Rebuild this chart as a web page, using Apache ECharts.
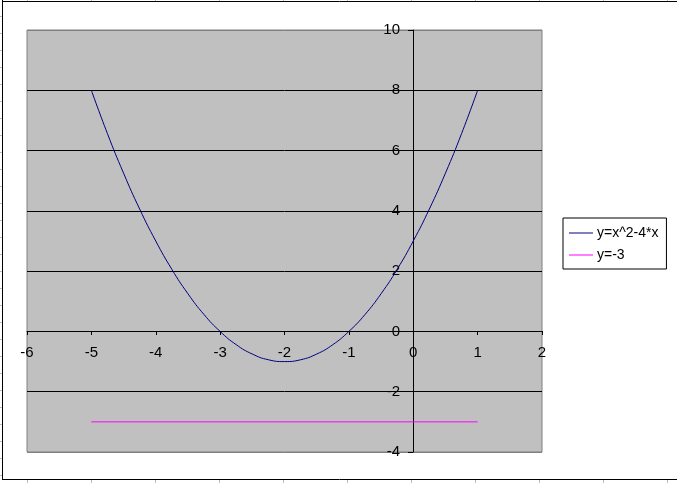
<!DOCTYPE html>
<html>
<head>
<meta charset="utf-8">
<script src="https://cdn.jsdelivr.net/npm/echarts@6/dist/echarts.min.js"></script>
<style>
html,body{margin:0;padding:0;background:#fff;}
#chart{width:677px;height:483px;}
</style>
</head>
<body>
<div id="chart"></div>
<script>
var seriesNames = ['y=x^2-4*x', 'y=-3'];
var curveX = [-5,-4.75,-4.5,-4.25,-4,-3.75,-3.5,-3.25,-3,-2.75,-2.5,-2.25,-2,-1.75,-1.5,-1.25,-1,-0.75,-0.5,-0.25,0,0.25,0.5,0.75,1];
var curveY = [8,6.56,5.25,4.06,3,2.06,1.25,0.56,0,-0.44,-0.75,-0.94,-1,-0.94,-0.75,-0.44,0,0.56,1.25,2.06,3,4.06,5.25,6.56,8];
var lineX = [-5, 1];
var lineY = [-3, -3];
var xRange = [-6, 2, 1];
var yRange = [-4, 10, 2];

function pairs(xs, ys){ return xs.map(function(x,i){ return [x, ys[i]]; }); }

var chart = echarts.init(document.getElementById('chart'), null, {renderer:'canvas'});
var font = 'Liberation Sans, Arial, sans-serif';

var G = {left:27, top:30, width:515, height:422};
// place the axes where the value 0 of the other axis falls
var yAxisOffset = -Math.round((0 - xRange[0]) / (xRange[1] - xRange[0]) * G.width);
var xAxisOffset = -Math.round((0 - yRange[0]) / (yRange[1] - yRange[0]) * G.height);

// decorative frame and ruler ticks around the chart
var deco = [
  {type:'line', shape:{x1:2.5,y1:0,x2:2.5,y2:479.5}, style:{stroke:'#000',lineWidth:1}},
  {type:'line', shape:{x1:2,y1:1.5,x2:677,y2:1.5}, style:{stroke:'#000',lineWidth:1}},
  {type:'line', shape:{x1:2,y1:479.5,x2:677,y2:479.5}, style:{stroke:'#000',lineWidth:1}}
];
for (var tx = 27; tx < 677; tx += 64) {
  deco.push({type:'line', shape:{x1:tx+0.5,y1:0,x2:tx+0.5,y2:1}, style:{stroke:'#bbb',lineWidth:1}});
  deco.push({type:'line', shape:{x1:tx+0.5,y1:480,x2:tx+0.5,y2:483}, style:{stroke:'#bbb',lineWidth:1}});
}
for (var ty = 16; ty < 480; ty += 17) {
  deco.push({type:'line', shape:{x1:0,y1:ty+0.5,x2:2,y2:ty+0.5}, style:{stroke:'#bbb',lineWidth:1}});
}

chart.setOption({
  animation:false,
  backgroundColor:'#fff',
  graphic: deco,
  grid:{left:G.left, top:G.top, width:G.width, height:G.height, show:true, backgroundColor:'#c0c0c0', borderColor:'#808080', borderWidth:1},
  legend:{
    orient:'vertical', left:563, top:218,
    padding:[8,8,7,6],
    backgroundColor:'#fff', borderColor:'#000', borderWidth:1, borderRadius:0,
    icon:'rect',
    itemWidth:24, itemHeight:1, itemGap:8,
    textStyle:{fontFamily:font, fontSize:14, color:'#000', padding:[0,0,0,-1]},
    data: seriesNames
  },
  xAxis:{
    type:'value', min:xRange[0], max:xRange[1], interval:xRange[2],
    position:'bottom', offset:xAxisOffset,
    axisLine:{show:true, onZero:false, lineStyle:{color:'#000', width:1}},
    axisTick:{show:true, inside:false, length:4, lineStyle:{color:'#000'}},
    axisLabel:{fontFamily:font, fontSize:15, color:'#000', margin:14},
    splitLine:{show:false}
  },
  yAxis:{
    type:'value', min:yRange[0], max:yRange[1], interval:yRange[2],
    position:'left', offset:yAxisOffset,
    axisLine:{show:true, onZero:false, lineStyle:{color:'#000', width:1}},
    axisTick:{show:true, inside:false, length:5, lineStyle:{color:'#000'}},
    axisLabel:{fontFamily:font, fontSize:15, color:'#000', margin:13},
    splitLine:{show:true, lineStyle:{color:['#808080','#000','#000','#000','#000','#000','#000','#808080'], width:1}}
  },
  series:[
    {name:seriesNames[0], type:'line', data:pairs(curveX, curveY), symbol:'none', smooth:true,
     lineStyle:{color:'#000080', width:1}, itemStyle:{color:'#000080'}, z:3},
    {name:seriesNames[1], type:'line', data:pairs(lineX, lineY), symbol:'none',
     lineStyle:{color:'#ff00ff', width:1}, itemStyle:{color:'#ff00ff'}, z:3}
  ]
});
</script>
</body>
</html>
